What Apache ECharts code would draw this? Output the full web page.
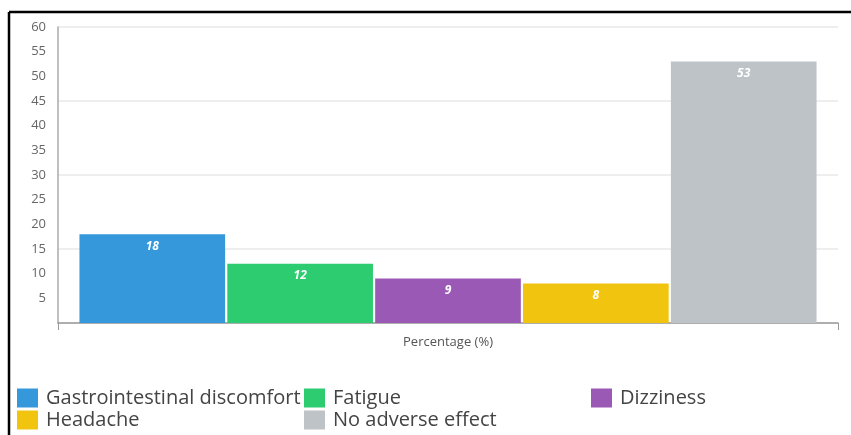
<!DOCTYPE html>
<html>
<head>
<meta charset="utf-8">
<script src="https://cdn.jsdelivr.net/npm/echarts@6/dist/echarts.min.js"></script>
<style>
  html, body { margin: 0; padding: 0; background: #fff; }
  #chart { width: 851px; height: 435px; }
</style>
</head>
<body>
<div id="chart"></div>
<script>
// data
const categories = ['Percentage (%)'];
const seriesNames = ['Gastrointestinal discomfort', 'Fatigue', 'Dizziness', 'Headache', 'No adverse effect'];
const seriesValues = [18, 12, 9, 8, 53];
const seriesColors = ['#3498db', '#2ecc71', '#9b59b6', '#f1c40f', '#bdc3c7'];

// where each legend entry sits (column x, row y), as in the picture
const legendSpots = [
    { name: 'Gastrointestinal discomfort', left: 17, top: 388 },
    { name: 'Fatigue', left: 304, top: 388 },
    { name: 'Dizziness', left: 591, top: 388 },
    { name: 'Headache', left: 17, top: 410 },
    { name: 'No adverse effect', left: 304, top: 410 }
];

const font = '"Open Sans", sans-serif';

var chart = echarts.init(document.getElementById('chart'));

const series = seriesNames.map(function (name, i) {
    return {
        name: name,
        type: 'bar',
        data: [seriesValues[i]],
        itemStyle: { color: seriesColors[i] },
        barGap: '1.5%',
        barCategoryGap: '5.5%',
        label: {
            show: true,
            position: 'insideTop',
            distance: 6,
            color: '#fff',
            fontStyle: 'italic',
            fontWeight: 'bold',
            fontSize: 12,
            fontFamily: font
        }
    };
});

const legends = legendSpots.map(function (spot) {
    return {
        data: [spot.name],
        left: spot.left,
        top: spot.top,
        padding: 0,
        itemWidth: 21,
        itemHeight: 19,
        icon: 'rect',
        selectedMode: false,
        textStyle: {
            fontFamily: font,
            fontSize: 20,
            color: '#444',
            padding: [0, 0, 0, 3]
        }
    };
});

chart.setOption({
    animation: false,
    backgroundColor: '#fff',
    grid: { left: 58, right: 13, top: 27, bottom: 112, containLabel: false },
    legend: legends,
    xAxis: {
        type: 'category',
        data: categories,
        axisLine: { lineStyle: { color: '#999', width: 1.5 } },
        axisTick: { show: true, length: 7, lineStyle: { color: '#999' } },
        axisLabel: { fontFamily: font, fontSize: 13, color: '#555', margin: 13 }
    },
    yAxis: [
        {
            type: 'value',
            min: 0,
            max: 60,
            interval: 5,
            axisLine: { show: true, lineStyle: { color: '#aaa', width: 1.5 } },
            axisTick: { show: false },
            splitLine: { show: false },
            axisLabel: {
                fontFamily: font,
                fontSize: 13,
                color: '#666',
                margin: 12,
                formatter: function (v) { return v === 0 ? '' : v; }
            }
        },
        {
            type: 'value',
            position: 'left',
            min: 0,
            max: 60,
            interval: 15,
            axisLine: { show: false },
            axisTick: { show: false },
            axisLabel: { show: false },
            splitLine: { show: true, lineStyle: { color: '#eee', width: 2 } }
        }
    ],
    graphic: [
        { type: 'line', shape: { x1: 9, y1: 12, x2: 851, y2: 12 }, style: { stroke: '#000', lineWidth: 2.5 } },
        { type: 'line', shape: { x1: 9, y1: 12, x2: 9, y2: 435 }, style: { stroke: '#000', lineWidth: 2.5 } }
    ],
    series: series
});
</script>
</body>
</html>
